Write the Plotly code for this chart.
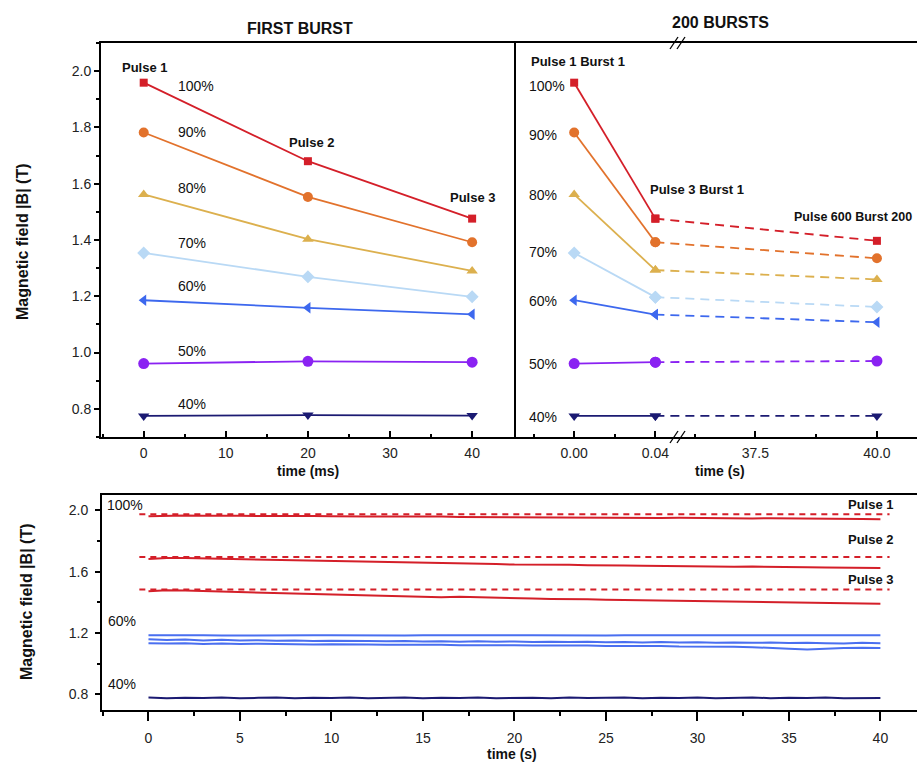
import plotly.graph_objects as go

W, H = 917, 763

# ---------------- data ----------------
levels = ["100%", "90%", "80%", "70%", "60%", "50%", "40%"]

# FIRST BURST (time in ms)
fb_time_ms = [0, 20, 40]
fb_100 = [1.959, 1.680, 1.476]
fb_90 = [1.782, 1.553, 1.392]
fb_80 = [1.562, 1.403, 1.290]
fb_70 = [1.354, 1.269, 1.198]
fb_60 = [1.186, 1.159, 1.136]
fb_50 = [0.961, 0.969, 0.966]
fb_40 = [0.775, 0.778, 0.776]

# 200 BURSTS (time in s): Pulse 1 Burst 1, Pulse 3 Burst 1, Pulse 600 Burst 200
b200_time_s = [0.00, 0.04, 40.0]
b200_100 = [1.959, 1.476, 1.397]
b200_90 = [1.782, 1.392, 1.335]
b200_80 = [1.562, 1.293, 1.260]
b200_70 = [1.354, 1.197, 1.162]
b200_60 = [1.186, 1.135, 1.108]
b200_50 = [0.961, 0.966, 0.970]
b200_40 = [0.775, 0.775, 0.775]

b200_ticks = [0.00, 0.04, 37.5, 40.0]
b200_ticktext = ["0.00", "0.04", "37.5", "40.0"]
b200_minor = [-0.02, 0.02, 36.25, 38.75]

# time traces over 40 s
trace_time_s = [0, 1, 2, 3, 4, 5, 6, 7, 8, 9, 10, 11, 12, 13, 14, 15, 16, 17, 18, 19, 20,
                21, 22, 23, 24, 25, 26, 27, 28, 29, 30, 31, 32, 33, 34, 35, 36, 37, 38, 39, 40]
pulse1_trace = [1.961, 1.966, 1.967, 1.965, 1.966, 1.964, 1.963, 1.964, 1.962, 1.963, 1.961,
                1.962, 1.960, 1.959, 1.960, 1.958, 1.959, 1.957, 1.956, 1.957, 1.954, 1.955,
                1.953, 1.954, 1.952, 1.953, 1.951, 1.952, 1.950, 1.951, 1.949, 1.950, 1.948,
                1.947, 1.948, 1.946, 1.947, 1.945, 1.944, 1.943, 1.942]
pulse2_trace = [1.682, 1.689, 1.688, 1.686, 1.684, 1.681, 1.679, 1.677, 1.673, 1.671, 1.667,
                1.668, 1.664, 1.662, 1.660, 1.658, 1.655, 1.653, 1.651, 1.649, 1.646, 1.647,
                1.644, 1.645, 1.642, 1.643, 1.640, 1.639, 1.637, 1.636, 1.634, 1.635, 1.632,
                1.633, 1.630, 1.629, 1.628, 1.626, 1.625, 1.624, 1.623]
pulse3_trace = [1.472, 1.478, 1.476, 1.473, 1.470, 1.468, 1.466, 1.463, 1.460, 1.456, 1.452,
                1.449, 1.446, 1.444, 1.441, 1.438, 1.433, 1.436, 1.432, 1.430, 1.427, 1.424,
                1.421, 1.422, 1.419, 1.417, 1.415, 1.413, 1.411, 1.409, 1.406, 1.405, 1.403,
                1.401, 1.399, 1.398, 1.396, 1.394, 1.392, 1.391, 1.390]
pulse_ref_levels = [1.974, 1.695, 1.483]
pulse_ref_time = [-0.5, 40.5]
pulse_names = ["Pulse 1", "Pulse 2", "Pulse 3"]

blue1_trace = [1.185, 1.186, 1.184, 1.185, 1.183, 1.184, 1.185, 1.183, 1.184, 1.185, 1.184,
               1.183, 1.185, 1.184, 1.183, 1.184, 1.185, 1.184, 1.183, 1.184, 1.185, 1.184,
               1.183, 1.184, 1.185, 1.183, 1.184, 1.184, 1.183, 1.185, 1.184, 1.183, 1.184,
               1.185, 1.183, 1.184, 1.183, 1.184, 1.185, 1.184, 1.184]
blue2_trace = [1.158, 1.153, 1.157, 1.151, 1.155, 1.150, 1.152, 1.148, 1.150, 1.147, 1.149,
               1.146, 1.147, 1.145, 1.147, 1.144, 1.146, 1.143, 1.145, 1.142, 1.144, 1.141,
               1.143, 1.140, 1.142, 1.139, 1.141, 1.138, 1.140, 1.137, 1.139, 1.136, 1.138,
               1.135, 1.137, 1.134, 1.136, 1.133, 1.131, 1.136, 1.133]
blue3_trace = [1.133, 1.130, 1.133, 1.128, 1.131, 1.127, 1.129, 1.126, 1.127, 1.124, 1.126,
               1.123, 1.124, 1.122, 1.123, 1.120, 1.122, 1.119, 1.120, 1.118, 1.119, 1.117,
               1.118, 1.115, 1.117, 1.114, 1.115, 1.113, 1.114, 1.111, 1.112, 1.109, 1.110,
               1.107, 1.104, 1.097, 1.092, 1.098, 1.101, 1.103, 1.102]
navy_trace = [0.778, 0.774, 0.777, 0.775, 0.779, 0.774, 0.776, 0.778, 0.773, 0.777, 0.775,
              0.778, 0.774, 0.776, 0.779, 0.774, 0.777, 0.775, 0.778, 0.773, 0.776, 0.777,
              0.774, 0.778, 0.775, 0.776, 0.779, 0.773, 0.777, 0.775, 0.778, 0.774, 0.776,
              0.778, 0.774, 0.777, 0.775, 0.778, 0.774, 0.776, 0.775]

# ---------------- styles ----------------
colors = ["#d41f29", "#e2722c", "#dcb04e", "#b9d9f5", "#3d68ee", "#8a22f2", "#1b1a72"]
symbols = ["square", "circle", "triangle-up", "diamond", "triangle-left", "circle", "triangle-down"]
msizes = [8, 10, 10, 10, 10, 11, 10]
RED, BLUE, NAVY = "#d41f29", "#4a6ff0", "#1b1a72"
FONT = "Liberation Sans, Arial, sans-serif"

fb_series = [fb_100, fb_90, fb_80, fb_70, fb_60, fb_50, fb_40]
b200_series = [b200_100, b200_90, b200_80, b200_70, b200_60, b200_50, b200_40]


def px(x):
    return x / W


def py(y):
    return 1 - y / H


# broken-axis scale for the 200 BURSTS panel
SEG1_UNIT = 0.04           # 0.04 s -> 1 axis unit
SEG2_ORIGIN = 2.231        # axis position of 37.5 s
SEG2_SCALE = 0.599         # axis units per second after the break


def broken_x(t):
    if t < 1.0:
        return t / SEG1_UNIT
    return SEG2_ORIGIN + (t - 37.5) * SEG2_SCALE


fig = go.Figure()

# FIRST BURST panel
for vals, c, s, ms in zip(fb_series, colors, symbols, msizes):
    fig.add_trace(go.Scatter(x=fb_time_ms, y=vals, mode="lines+markers",
                             line=dict(color=c, width=1.8),
                             marker=dict(symbol=s, size=ms, color=c),
                             xaxis="x", yaxis="y"))

# 200 BURSTS panel
for vals, c, s, ms in zip(b200_series, colors, symbols, msizes):
    xs = [broken_x(t) for t in b200_time_s]
    fig.add_trace(go.Scatter(x=xs[:2], y=vals[:2], mode="lines+markers",
                             line=dict(color=c, width=1.8),
                             marker=dict(symbol=s, size=ms, color=c),
                             xaxis="x2", yaxis="y2"))
    fig.add_trace(go.Scatter(x=xs[1:], y=vals[1:], mode="lines+markers",
                             line=dict(color=c, width=1.8, dash="9px,6px"),
                             marker=dict(symbol=s, size=ms, color=c),
                             xaxis="x2", yaxis="y2"))

# 40 s traces panel
for lvl in pulse_ref_levels:
    fig.add_trace(go.Scatter(x=pulse_ref_time, y=[lvl, lvl], mode="lines",
                             line=dict(color=RED, width=2, dash="6px,5px"),
                             xaxis="x3", yaxis="y3"))
for tr in [pulse1_trace, pulse2_trace, pulse3_trace]:
    fig.add_trace(go.Scatter(x=trace_time_s, y=tr, mode="lines",
                             line=dict(color=RED, width=2), xaxis="x3", yaxis="y3"))
for tr in [blue1_trace, blue2_trace, blue3_trace]:
    fig.add_trace(go.Scatter(x=trace_time_s, y=tr, mode="lines",
                             line=dict(color=BLUE, width=2), xaxis="x3", yaxis="y3"))
fig.add_trace(go.Scatter(x=trace_time_s, y=navy_trace, mode="lines",
                         line=dict(color=NAVY, width=2), xaxis="x3", yaxis="y3"))

tickfont = dict(family=FONT, size=14, color="#222")
axis_common = dict(showgrid=False, zeroline=False, linecolor="black", linewidth=2,
                   tickcolor="black", tickwidth=1.5, tickfont=tickfont)

top_dom = [py(437), py(43)]
fig.update_layout(
    width=W, height=H,
    margin=dict(l=0, r=0, t=0, b=0),
    paper_bgcolor="white", plot_bgcolor="white",
    showlegend=False,
    font=dict(family=FONT, color="#111"),
    xaxis=dict(domain=[px(101), px(514)], range=[-5.2, 45.1], anchor="y",
               tick0=0, dtick=10, ticks="inside", ticklen=6, showline=True, mirror=True,
               ticklabelstandoff=2,
               minor=dict(dtick=5, tick0=0, ticks="inside", ticklen=3, tickcolor="black"),
               **axis_common),
    yaxis=dict(domain=top_dom, range=[0.70, 2.10], anchor="x",
               tick0=0, dtick=0.2, tickformat=".1f", ticks="outside", ticklen=5,
               showline=True, mirror=True,
               minor=dict(dtick=0.1, tick0=0, ticks="outside", ticklen=3, tickcolor="black"),
               **axis_common),
    xaxis2=dict(domain=[px(514), 1.0], range=[broken_x(0) - 0.741, 4.222], anchor="y2",
                tickvals=[broken_x(t) for t in b200_ticks], ticktext=b200_ticktext,
                ticks="inside", ticklen=6, showline=True, mirror=True,
                ticklabelstandoff=2,
                minor=dict(tickvals=[broken_x(t) for t in b200_minor], ticks="inside",
                           ticklen=3, tickcolor="black"),
                **axis_common),
    yaxis2=dict(domain=top_dom, range=[0.70, 2.10], anchor="x2",
                showticklabels=False, ticks="", showline=False, showgrid=False, zeroline=False),
    xaxis3=dict(domain=[px(102), 1.0], range=[-2.54, 42.0], anchor="y3",
                tick0=0, dtick=5, ticks="outside", ticklen=9, showline=True, mirror=True,
                ticklabelstandoff=6,
                minor=dict(dtick=2.5, tick0=0, ticks="outside", ticklen=4, tickcolor="black"),
                **axis_common),
    yaxis3=dict(domain=[py(709.5), py(495)], range=[0.70, 2.10], anchor="x3",
                tick0=0.8, dtick=0.4, tickformat=".1f", ticks="outside", ticklen=5,
                showline=True, ticklabelstandoff=4,
                minor=dict(dtick=0.2, tick0=0.8, ticks="outside", ticklen=3, tickcolor="black"),
                **axis_common),
)

ann = []


def label(text, x, y, size=14, bold=False, xanchor="center", angle=0):
    t = f"<b>{text}</b>" if bold else text
    ann.append(dict(text=t, x=px(x), y=py(y), xref="paper", yref="paper",
                    xanchor=xanchor, yanchor="middle", showarrow=False, textangle=angle,
                    font=dict(family=FONT, size=size, color="#111")))


# titles
label("FIRST BURST", 300, 28, size=16, bold=True)
label("200 BURSTS", 720, 23, size=16, bold=True)
label("time (ms)", 308, 471, size=14, bold=True)
label("time (s)", 720, 471, size=14, bold=True)
label("time (s)", 512, 754, size=14, bold=True)
label("Magnetic field |B| (T)", 22, 242, size=16, bold=True, angle=-90)
label("Magnetic field |B| (T)", 26, 602, size=16, bold=True, angle=-90)

# FIRST BURST labels
label("Pulse 1", 145, 67, size=13, bold=True)
label("Pulse 2", 312, 143, size=13, bold=True)
label("Pulse 3", 473, 197, size=13, bold=True)
for lvl, yy in zip(levels, [86, 132, 188, 243, 286, 351, 404]):
    label(lvl, 176, yy, xanchor="left")

# 200 BURSTS labels
label("Pulse 1 Burst 1", 578, 61, size=13, bold=True)
label("Pulse 3 Burst 1", 697, 189, size=13, bold=True)
label("Pulse 600 Burst 200", 914, 217, size=12.5, bold=True, xanchor="right")
for lvl, yy in zip(levels, [86, 135, 195, 252, 301, 364, 417]):
    label(lvl, 527, yy, xanchor="left")

# bottom panel labels
label("100%", 105, 505, xanchor="left")
label("60%", 106, 621, xanchor="left")
label("40%", 106, 684, xanchor="left")
for name, yy in zip(pulse_names, [504, 539, 579]):
    label(name, 871, yy, size=13, bold=True)

fig.update_layout(annotations=ann)

# axis-break marks on the 200 BURSTS x axis
shapes = []
xb = 678
for yb in (43, 437):
    for off in (-4, 3):
        shapes.append(dict(type="line", xref="paper", yref="paper",
                           x0=px(xb + off - 4), y0=py(yb + 6), x1=px(xb + off + 4), y1=py(yb - 6),
                           line=dict(color="black", width=1.3)))
fig.update_layout(shapes=shapes)

fig.write_html("out.html", config={"displayModeBar": False},
               post_script="document.body.style.margin='0';document.body.style.overflow='hidden';")
